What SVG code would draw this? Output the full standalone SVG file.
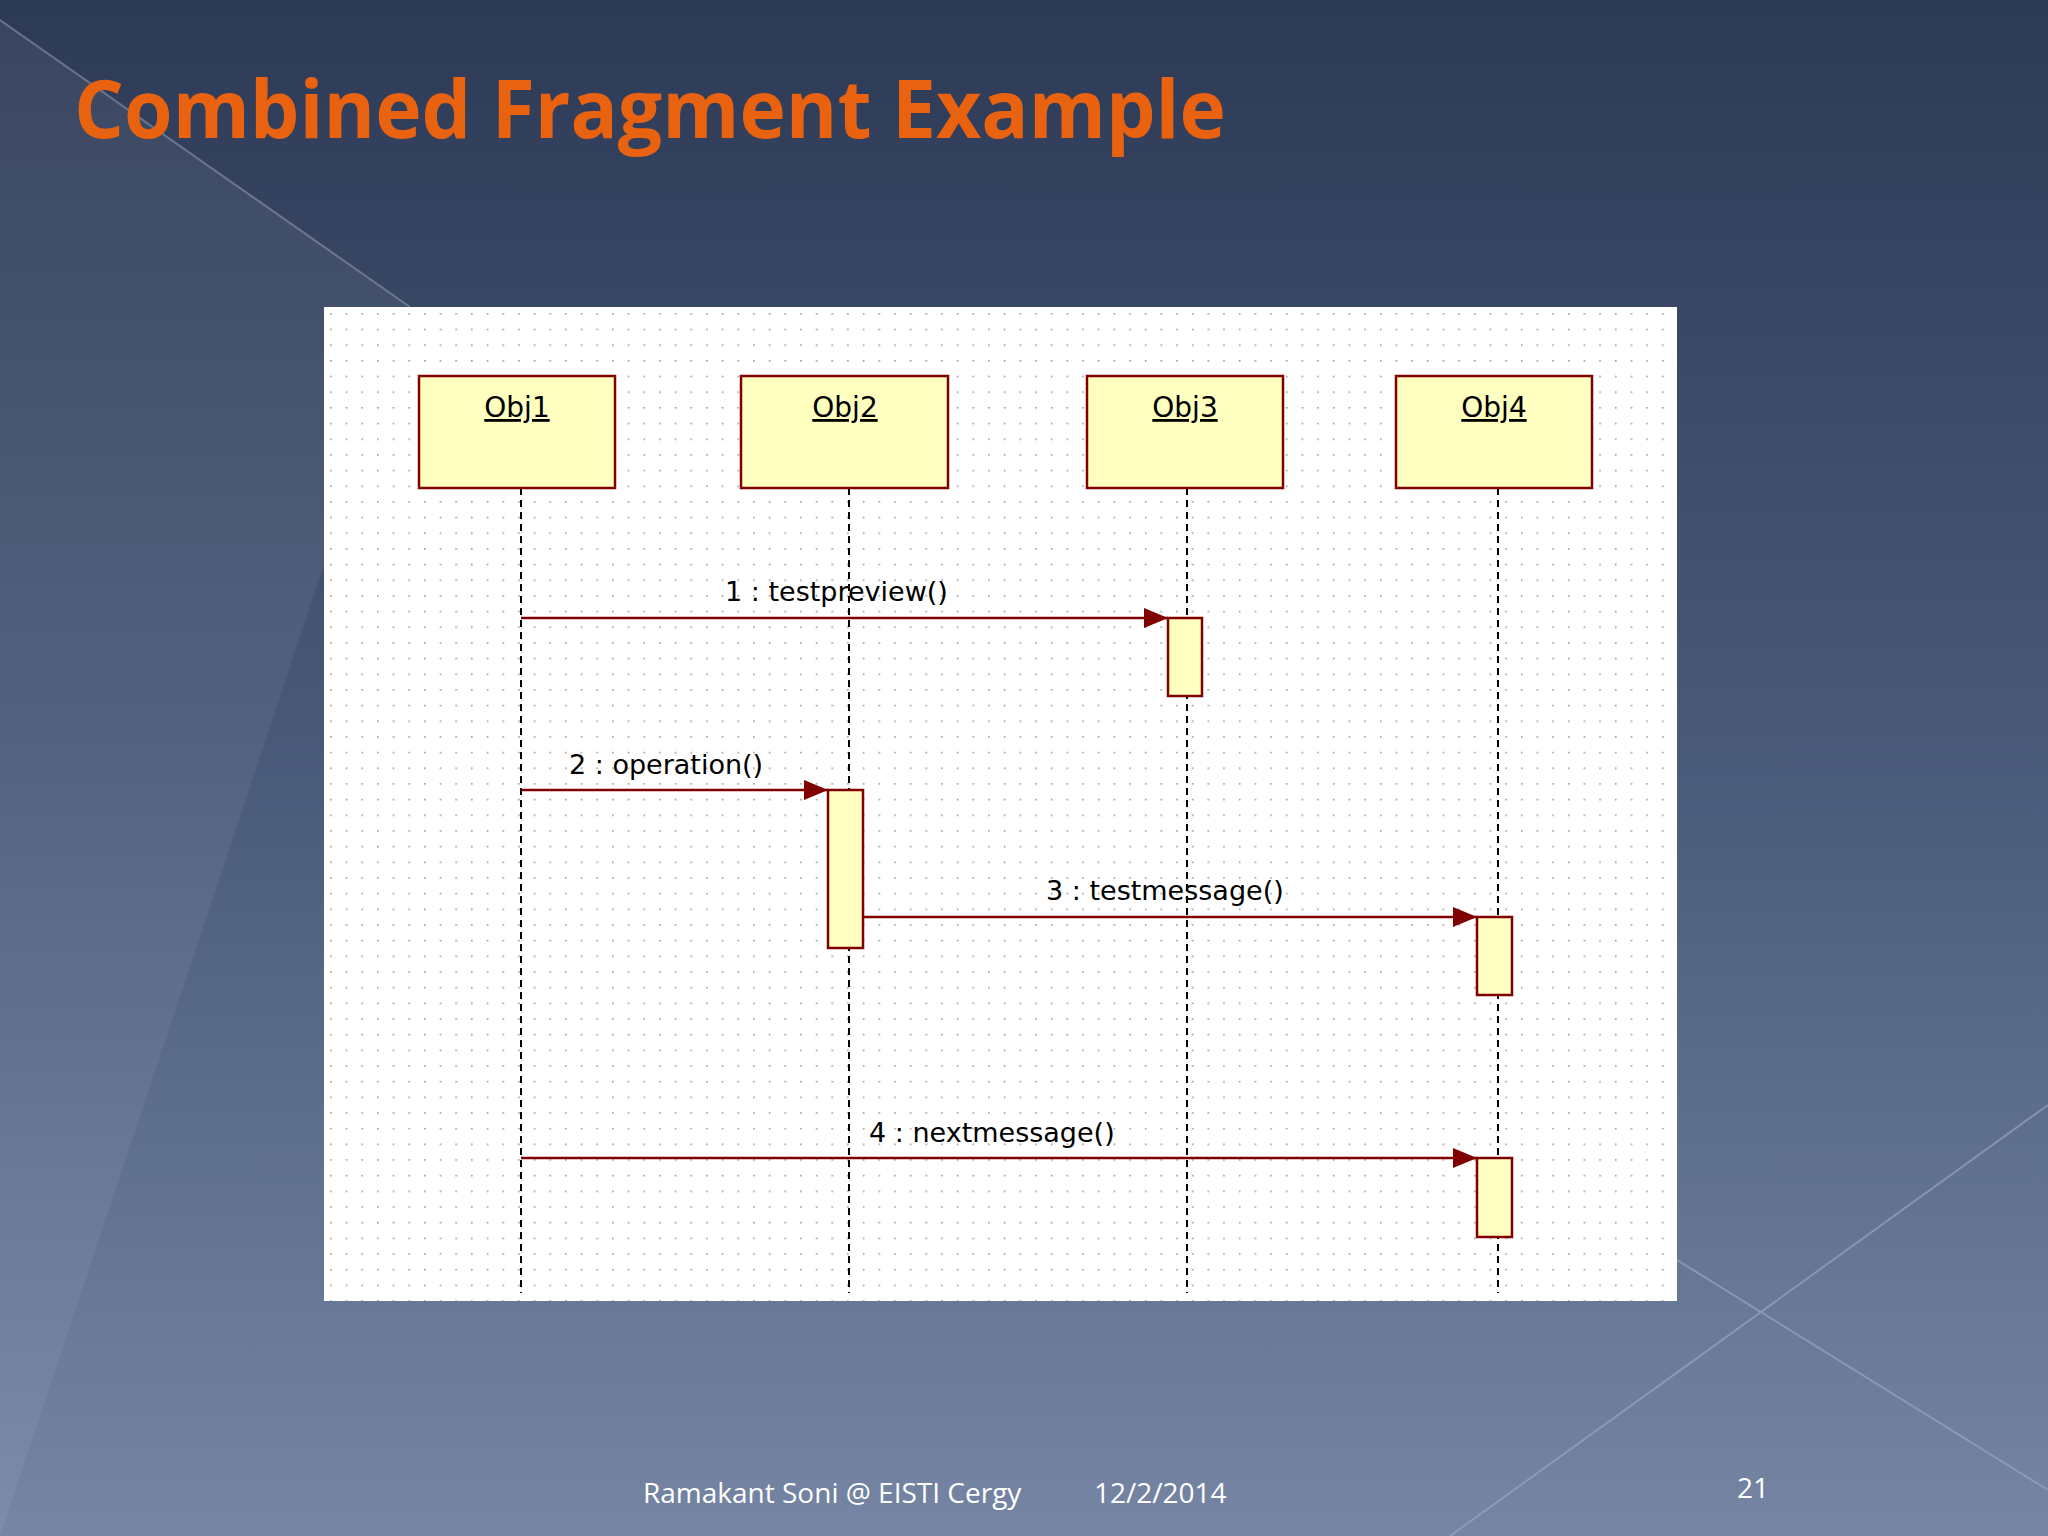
<svg xmlns="http://www.w3.org/2000/svg" width="2048" height="1536" viewBox="0 0 2048 1536">
<style>
.box{fill:#ffffc0;stroke:#800000;stroke-width:2.5}
.life{stroke:#000;stroke-width:2;stroke-dasharray:7,5}
.msg{stroke:#800000;stroke-width:2.5;fill:none}
.lbl{font-family:"DejaVu Sans",sans-serif;font-size:27px;fill:#000}
.obj{font-family:"DejaVu Sans",sans-serif;font-size:28px;fill:#000;text-decoration:underline}
.foot{font-family:"Open Sans",sans-serif;font-size:28px;fill:#fff}
</style>
<defs>
<linearGradient id="bg" x1="0" y1="0" x2="0" y2="1"><stop offset="0" stop-color="#2d3a56"/><stop offset="0.5" stop-color="#4a5a7a"/><stop offset="1" stop-color="#7585a3"/></linearGradient>
<pattern id="dots" width="15.67" height="15.67" patternUnits="userSpaceOnUse" x="330" y="313"><rect width="1.6" height="1.6" fill="#9a9a9a"/></pattern>
<marker id="ah" markerWidth="24" markerHeight="20" refX="24" refY="10" orient="auto" markerUnits="userSpaceOnUse"><path d="M0,0 L24,10 L0,20 Z" fill="#800000"/></marker>
</defs>
<rect width="2048" height="1536" fill="url(#bg)"/>
<path d="M0,20 L410,307" stroke="#8894aa" stroke-width="2" opacity="0.6"/>
<path d="M0,20 L0,1536 L410,307Z" fill="#ffffff" opacity="0.06"/>
<path d="M1677,1260 L2048,1490 M1450,1536 L2048,1105" stroke="#a0acc4" stroke-width="2" opacity="0.6"/>
<text x="74" y="138" font-family="'Open Sans',sans-serif" font-weight="bold" font-size="80" fill="#e8620f" textLength="1152" lengthAdjust="spacingAndGlyphs">Combined Fragment Example</text>
<rect x="324" y="307" width="1353" height="994" fill="#fff"/>
<rect x="324" y="307" width="1353" height="994" fill="url(#dots)"/>
<g id="connectors">
<line class="life" x1="521" y1="488" x2="521" y2="1293"/>
<line class="life" x1="849" y1="488" x2="849" y2="1293"/>
<line class="life" x1="1187" y1="488" x2="1187" y2="1293"/>
<line class="life" x1="1498" y1="488" x2="1498" y2="1293"/>
<line class="msg" x1="521" y1="618" x2="1168" y2="618" marker-end="url(#ah)"/>
<line class="msg" x1="521" y1="790" x2="828" y2="790" marker-end="url(#ah)"/>
<line class="msg" x1="863" y1="917" x2="1477" y2="917" marker-end="url(#ah)"/>
<line class="msg" x1="521" y1="1158" x2="1477" y2="1158" marker-end="url(#ah)"/>
<text class="lbl" x="725" y="601">1 : testpreview()</text>
<text class="lbl" x="569" y="774">2 : operation()</text>
<text class="lbl" x="1046" y="900">3 : testmessage()</text>
<text class="lbl" x="869" y="1142">4 : nextmessage()</text>
</g>
<g id="obj1"><rect class="box" x="419" y="376" width="196" height="112"/><text class="obj" x="517" y="417" text-anchor="middle">Obj1</text></g>
<g id="obj2"><rect class="box" x="741" y="376" width="207" height="112"/><text class="obj" x="845" y="417" text-anchor="middle">Obj2</text></g>
<g id="obj3"><rect class="box" x="1087" y="376" width="196" height="112"/><text class="obj" x="1185" y="417" text-anchor="middle">Obj3</text></g>
<g id="obj4"><rect class="box" x="1396" y="376" width="196" height="112"/><text class="obj" x="1494" y="417" text-anchor="middle">Obj4</text></g>
<g id="act3"><rect class="box" x="1168" y="618" width="34" height="78"/></g>
<g id="act2"><rect class="box" x="828" y="790" width="35" height="158"/></g>
<g id="act4a"><rect class="box" x="1477" y="917" width="35" height="78"/></g>
<g id="act4b"><rect class="box" x="1477" y="1158" width="35" height="79"/></g>
<text class="foot" x="643" y="1503">Ramakant Soni @ EISTI Cergy</text>
<text class="foot" x="1094" y="1503">12/2/2014</text>
<text class="foot" x="1737" y="1498">21</text>
</svg>
